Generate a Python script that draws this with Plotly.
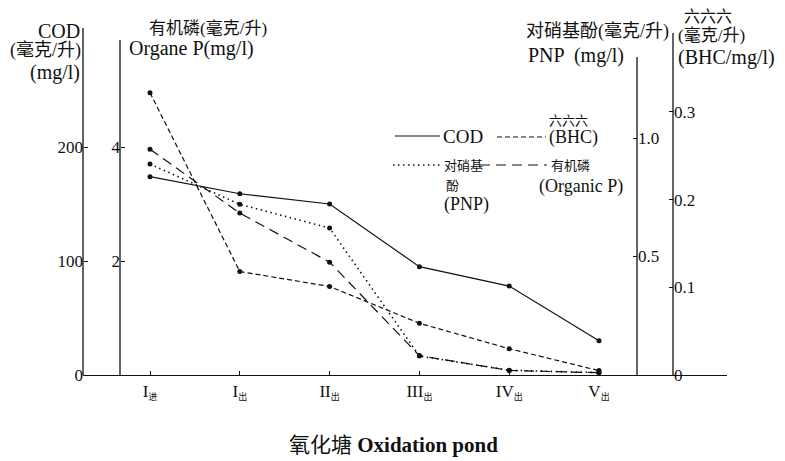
import plotly.graph_objects as go

# Sampling points along the oxidation pond series
stages = ["I", "I", "II", "III", "IV", "V"]
stage_sub = ["进", "出", "出", "出", "出", "出"]
stage_pos = [0, 1, 2, 3, 4, 5]

cod = [174, 159, 150, 95, 78, 30]                  # mg/l
organic_p = [3.96, 2.84, 1.98, 0.34, 0.08, 0.04]   # mg/l
pnp = [0.89, 0.72, 0.62, 0.08, 0.02, 0.01]         # mg/l
bhc = [0.322, 0.118, 0.101, 0.059, 0.030, 0.005]   # mg/l

cod_ticks = [0, 100, 200]
p_ticks = [2, 4]
pnp_ticks = [0.5, 1.0]
pnp_ticktext = ["0.5", "1.0"]
bhc_ticks = [0, 0.1, 0.2, 0.3]
bhc_ticktext = ["0", "0.1", "0.2", "0.3"]

W, H = 785, 461
ML, MR, MT, MB = 83, 58, 28, 86
PW, PH = W - ML - MR, H - MT - MB
BASE = H - MB

SERIF = "Liberation Serif, Times New Roman, Noto Sans CJK SC, serif"
INK = "#111111"


def px_x(p):
    return (p - ML) / PW


def px_y(p):
    return (BASE - p) / PH


fig = go.Figure()

line_w = 1.2
mk = dict(size=5, color=INK)
DASH_BHC = "5px,3px"
DASH_P = "10px,6px"
DASH_PNP = "1.5px,3.5px"

fig.add_trace(go.Scatter(x=stage_pos, y=cod, yaxis="y", mode="lines+markers",
                         line=dict(color=INK, width=line_w), marker=mk, name="COD"))
fig.add_trace(go.Scatter(x=stage_pos, y=organic_p, yaxis="y2", mode="lines+markers",
                         line=dict(color=INK, width=line_w, dash=DASH_P), marker=mk, name="有机磷"))
fig.add_trace(go.Scatter(x=stage_pos, y=pnp, yaxis="y3", mode="lines+markers",
                         line=dict(color=INK, width=1.6, dash=DASH_PNP), marker=mk, name="对硝基酚"))
fig.add_trace(go.Scatter(x=stage_pos, y=bhc, yaxis="y4", mode="lines+markers",
                         line=dict(color=INK, width=line_w, dash=DASH_BHC), marker=mk, name="六六六"))

tick_font = dict(family=SERIF, size=17, color=INK)
common_y = dict(showgrid=False, zeroline=False, showline=False,
                ticks="inside", ticklen=4, tickcolor=INK, tickwidth=1.2, tickfont=tick_font,
                fixedrange=True)

# pixel columns of the four vertical axes and the top of each axis line
cod_axis_px, p_axis_px, pnp_axis_px, bhc_axis_px = 83, 120, 637, 673
axis_tops = {cod_axis_px: 28, p_axis_px: 40, pnp_axis_px: 57, bhc_axis_px: 33}

# pixels per data unit on each vertical axis
cod_scale, p_scale, pnp_scale, bhc_scale = 1.14, 57.0, 237.0, 876.7
x_step = 89.8
x_first = 150

tick_text = [f"{r}<sub><span style='font-size:9px'>{s}</span></sub>" for r, s in zip(stages, stage_sub)]

fig.update_layout(
    width=W, height=H,
    margin=dict(l=ML, r=MR, t=MT, b=MB),
    paper_bgcolor="white", plot_bgcolor="white",
    showlegend=False,
    xaxis=dict(range=[-(x_first - ML) / x_step, (W - MR - x_first) / x_step],
               tickvals=stage_pos, ticktext=tick_text, showgrid=False, zeroline=False,
               showline=True, linecolor=INK, linewidth=1.3, ticks="inside", ticklen=4,
               tickcolor=INK, tickfont=dict(family=SERIF, size=17, color=INK), anchor="y"),
    yaxis=dict(range=[0, PH / cod_scale], tickvals=cod_ticks,
               anchor="free", position=px_x(cod_axis_px), side="left", **common_y),
    yaxis2=dict(range=[0, PH / p_scale], tickvals=p_ticks, overlaying="y",
                anchor="free", position=px_x(p_axis_px), side="left", **common_y),
    yaxis3=dict(range=[0, PH / pnp_scale], tickvals=pnp_ticks, ticktext=pnp_ticktext,
                overlaying="y", anchor="free", position=px_x(pnp_axis_px), side="right", **common_y),
    yaxis4=dict(range=[0, PH / bhc_scale], tickvals=bhc_ticks, ticktext=bhc_ticktext,
                overlaying="y", anchor="free", position=px_x(bhc_axis_px), side="right", **common_y),
)

# vertical axis lines, each with its own height
for ax_px, top in axis_tops.items():
    fig.add_shape(type="line", xref="paper", yref="paper",
                  x0=px_x(ax_px), x1=px_x(ax_px), y0=0, y1=px_y(top),
                  line=dict(color=INK, width=1.3))

annots = []


def label(text, x, y, anchor="left", size=17):
    annots.append(dict(text=text, x=px_x(x), y=px_y(y), xref="paper", yref="paper",
                       xanchor=anchor, yanchor="middle", showarrow=False,
                       font=dict(family=SERIF, size=size, color=INK)))


# axis titles
label("COD", 82, 31, "right", 20)
label("(毫克/升)", 83, 50, "right", 18)
label("(mg/l)", 82, 72, "right", 20)
label("有机磷(毫克/升)", 147, 28, "left", 17)
label("Organe P(mg/l)", 127, 48, "left", 20)
label("对硝基酚(毫克/升)", 524, 32, "left", 18)
label("PNP  (mg/l)", 526, 55, "left", 20)
label("六六六", 682, 16, "left", 16)
label("(毫克/升)", 676, 36, "left", 17)
label("(BHC/mg/l)", 676, 58, "left", 20)

# key
label("COD", 441, 136, "left", 19)
label("六六六", 568, 120, "center", 13)
label("(BHC)", 547, 137, "left", 18)
label("对硝基", 442, 165, "left", 13)
label("酚", 444, 185, "left", 13)
label("(PNP)", 442, 204, "left", 18)
label("有机磷", 549, 165, "left", 13)
label("(Organic P)", 537, 186, "left", 18)

# caption
annots.append(dict(text="氧化塘 <b>Oxidation pond</b>", x=px_x(393), y=px_y(445),
                   xref="paper", yref="paper", xanchor="center", yanchor="middle",
                   showarrow=False, font=dict(family=SERIF, size=21, color=INK)))

fig.update_layout(annotations=annots)


def key_line(x0, x1, y, dash, width=1.2):
    fig.add_shape(type="line", xref="paper", yref="paper",
                  x0=px_x(x0), x1=px_x(x1), y0=px_y(y), y1=px_y(y),
                  line=dict(color=INK, width=width, dash=dash))


key_line(395, 440, 136, "solid")
key_line(497, 546, 137, DASH_BHC)
key_line(393, 441, 165, DASH_PNP, 1.6)
key_line(480, 547, 165, DASH_P)

fig.write_html("out.html")
